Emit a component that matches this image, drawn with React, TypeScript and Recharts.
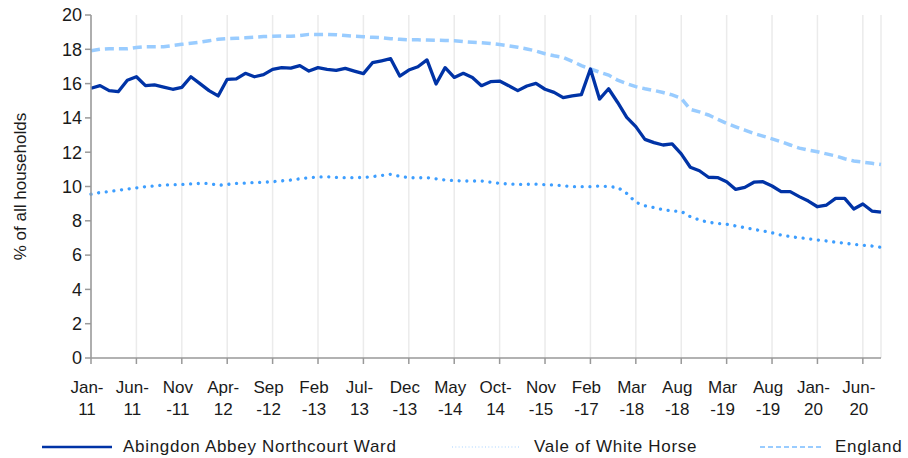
import { LineChart, Line, XAxis, YAxis, CartesianGrid, Label } from "recharts";

// Month labels per data point (the series skips months after Oct-14)
const months = [
  "Jan-11", "Feb-11", "Mar-11", "Apr-11", "May-11", "Jun-11", "Jul-11", "Aug-11", "Sep-11", "Oct-11", "Nov-11", "Dec-11",
  "Jan-12", "Feb-12", "Mar-12", "Apr-12", "May-12", "Jun-12", "Jul-12", "Aug-12", "Sep-12", "Oct-12", "Nov-12", "Dec-12",
  "Jan-13", "Feb-13", "Mar-13", "Apr-13", "May-13", "Jun-13", "Jul-13", "Aug-13", "Sep-13", "Oct-13", "Nov-13", "Dec-13",
  "Jan-14", "Feb-14", "Mar-14", "Apr-14", "May-14", "Jun-14", "Jul-14", "Aug-14", "Sep-14", "Oct-14",
  "Jan-15", "Apr-15", "Jul-15", "Sep-15", "Nov-15",
  "Feb-16", "May-16", "Aug-16", "Nov-16", "Feb-17",
  "May-17", "Aug-17", "Nov-17", "Feb-18", "Mar-18",
  "Apr-18", "May-18", "Jun-18", "Jul-18", "Aug-18",
  "Sep-18", "Oct-18", "Dec-18", "Jan-19", "Mar-19",
  "Apr-19", "May-19", "Jun-19", "Jul-19", "Aug-19",
  "Sep-19", "Oct-19", "Nov-19", "Dec-19", "Jan-20",
  "Feb-20", "Mar-20", "Apr-20", "May-20", "Jun-20",
  "Jul-20", "Aug-20",
];

const ward = [
  15.73, 15.88, 15.59, 15.53, 16.2, 16.4, 15.88, 15.92, 15.8, 15.67,
  15.78, 16.4, 16.0, 15.59, 15.28, 16.25, 16.27, 16.6, 16.4, 16.52,
  16.83, 16.93, 16.9, 17.05, 16.73, 16.93, 16.83, 16.77, 16.89, 16.73,
  16.58, 17.22, 17.33, 17.45, 16.44, 16.79, 16.98, 17.38, 15.98, 16.93,
  16.36, 16.6, 16.36, 15.88, 16.11, 16.15, 15.88, 15.59, 15.86, 16.01,
  15.67, 15.49, 15.18, 15.28, 15.36, 16.85, 15.1, 15.7, 14.9, 14.03,
  13.49, 12.75, 12.56, 12.42, 12.48, 11.9, 11.12, 10.92, 10.54, 10.52,
  10.28, 9.83, 9.95, 10.25, 10.28, 10.03, 9.7, 9.7, 9.41, 9.15,
  8.82, 8.92, 9.31, 9.31, 8.69, 8.98, 8.57, 8.5,
];

const vale = [
  9.55, 9.65, 9.7, 9.78, 9.85, 9.92, 9.99, 10.04, 10.09, 10.1,
  10.12, 10.15, 10.18, 10.18, 10.07, 10.12, 10.18, 10.2, 10.23, 10.25,
  10.28, 10.33, 10.38, 10.45, 10.51, 10.55, 10.57, 10.53, 10.51, 10.52,
  10.53, 10.58, 10.64, 10.71, 10.6, 10.51, 10.51, 10.51, 10.45, 10.38,
  10.35, 10.32, 10.32, 10.32, 10.25, 10.18, 10.15, 10.12, 10.13, 10.14,
  10.11, 10.09, 10.04, 9.99, 9.99, 9.99, 10.03, 9.99, 9.95, 9.6,
  9.08, 8.88, 8.77, 8.65, 8.57, 8.55, 8.24, 8.05, 7.91, 7.85,
  7.8, 7.7, 7.6, 7.5, 7.41, 7.3, 7.17, 7.08, 7.01, 6.95,
  6.88, 6.82, 6.75, 6.69, 6.63, 6.58, 6.53, 6.45,
];

const england = [
  17.92, 18.0, 18.03, 18.03, 18.03, 18.1, 18.15, 18.15, 18.15, 18.22,
  18.29, 18.35, 18.42, 18.5, 18.58, 18.62, 18.64, 18.67, 18.7, 18.74,
  18.76, 18.77, 18.76, 18.8, 18.87, 18.86, 18.87, 18.85, 18.8, 18.76,
  18.73, 18.7, 18.68, 18.62, 18.58, 18.55, 18.55, 18.54, 18.53, 18.52,
  18.5, 18.45, 18.41, 18.38, 18.34, 18.28, 18.2, 18.12, 18.02, 17.9,
  17.74, 17.62, 17.53, 17.3, 17.05, 16.85, 16.67, 16.5, 16.2, 16.0,
  15.82, 15.7, 15.6, 15.48, 15.34, 15.14, 14.5, 14.35, 14.17, 13.92,
  13.68, 13.48, 13.29, 13.1, 12.94, 12.78, 12.61, 12.42, 12.24, 12.12,
  12.03, 11.9, 11.78, 11.62, 11.49, 11.42, 11.35, 11.28,
];

const yTicks = [0, 2, 4, 6, 8, 10, 12, 14, 16, 18, 20];
const xTicks = [0, 5, 10, 15, 20, 25, 30, 35, 40, 45, 50, 55, 60, 65, 70, 75, 80, 85];
// months whose label wraps after the hyphen ("Jan-" / "11"), others wrap before it ("Nov" / "-11")
const narrowMonths = ["Jan", "Jun", "Apr", "Jul", "Oct"];

const FONT = "'Liberation Sans', Arial, sans-serif";
const TEXT = "#1a1a1a";
const AXIS = "#999999";

const data = months.map((m, i) => ({
  idx: i,
  month: m,
  ward: ward[i],
  vale: vale[i],
  england: england[i],
}));

function MonthTick({ x, y, payload }: any) {
  const label = months[payload.value] ?? "";
  const [mon, yr] = label.split("-");
  const lines = narrowMonths.includes(mon) ? [mon + "-", yr] : [mon, "-" + yr];
  const cx = x - 4;
  return (
    <text textAnchor="middle" fill={TEXT} fontSize={17} fontFamily={FONT}>
      <tspan x={cx} y={y + 27}>{lines[0]}</tspan>
      <tspan x={cx} y={y + 48.5}>{lines[1]}</tspan>
    </text>
  );
}

function YTitle({ viewBox }: any) {
  const cy = viewBox.y + viewBox.height / 2;
  return (
    <text
      x={26}
      y={cy}
      transform={`rotate(-90, 26, ${cy})`}
      textAnchor="middle"
      fill={TEXT}
      fontSize={17}
      fontFamily={FONT}
    >
      % of all households
    </text>
  );
}

export default function App() {
  return (
    <div style={{ position: "absolute", left: 0, top: 0, width: 908, height: 458, background: "#fff", fontFamily: FONT }}>
      <LineChart width={908} height={430} data={data} margin={{ top: 15, right: 27, bottom: 0, left: 0 }}>
        <CartesianGrid horizontal={false} stroke="#ebebeb" strokeWidth={1.5} />
        <XAxis
          dataKey="idx"
          type="number"
          domain={[0, 87]}
          ticks={xTicks}
          interval={0}
          height={72}
          tick={<MonthTick />}
          tickSize={6}
          axisLine={{ stroke: AXIS, strokeWidth: 1.5 }}
          tickLine={{ stroke: AXIS, strokeWidth: 1.5 }}
        />
        <YAxis
          type="number"
          domain={[0, 20]}
          ticks={yTicks}
          interval={0}
          width={91}
          tickSize={6}
          tickMargin={3}
          tick={{ fill: TEXT, fontSize: 18, fontFamily: FONT }}
          axisLine={{ stroke: AXIS, strokeWidth: 1.5 }}
          tickLine={{ stroke: AXIS, strokeWidth: 1.5 }}
        >
          <Label content={<YTitle />} />
        </YAxis>
        <Line
          dataKey="vale"
          stroke="#3d9eff"
          strokeWidth={3.3}
          strokeDasharray="0.01 7.7"
          strokeLinecap="round"
          dot={false}
          isAnimationActive={false}
        />
        <Line
          dataKey="england"
          stroke="#99ccff"
          strokeWidth={3.5}
          strokeDasharray="9 5"
          dot={false}
          isAnimationActive={false}
        />
        <Line
          dataKey="ward"
          stroke="#0033a6"
          strokeWidth={3.3}
          strokeLinejoin="round"
          dot={false}
          isAnimationActive={false}
        />
      </LineChart>
      <svg width={908} height={28} style={{ position: "absolute", left: 0, top: 430 }}>
        <line x1={42} x2={112} y1={17} y2={17} stroke="#0033a6" strokeWidth={2.5} />
        <text x={123} y={22} fill={TEXT} fontSize={17} letterSpacing={0.7} fontFamily={FONT}>
          Abingdon Abbey Northcourt Ward
        </text>
        <line x1={452} x2={520} y1={17} y2={17} stroke="#c4e1ff" strokeWidth={1.5} strokeDasharray="1 2.3" />
        <text x={534} y={22} fill={TEXT} fontSize={17} letterSpacing={0.7} fontFamily={FONT}>
          Vale of White Horse
        </text>
        <line x1={760} x2={822} y1={17} y2={17} stroke="#99ccff" strokeWidth={2} strokeDasharray="5 3" />
        <text x={835} y={22} fill={TEXT} fontSize={17} letterSpacing={0.7} fontFamily={FONT}>
          England
        </text>
      </svg>
    </div>
  );
}
